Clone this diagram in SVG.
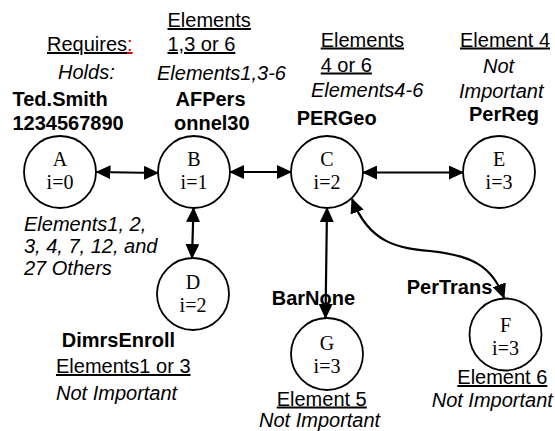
<svg xmlns="http://www.w3.org/2000/svg" width="555" height="431" viewBox="0 0 555 431">
<style>
.t{font-family:"Liberation Sans",Arial,sans-serif;font-size:20px;fill:#000}
.b{font-weight:bold}
.i{font-style:italic}
.u{text-decoration:underline}
.n{font-family:"Liberation Serif","Times New Roman",serif;font-size:20px;text-anchor:middle;fill:#000}
.c{fill:#fff;stroke:#000;stroke-width:1.8}
.e{fill:none;stroke:#000;stroke-width:2.2;marker-start:url(#ah);marker-end:url(#ah)}
</style>
<defs>
<marker id="ah" viewBox="0 0 15 14" refX="14" refY="7" markerWidth="15" markerHeight="14" orient="auto-start-reverse" markerUnits="userSpaceOnUse"><path d="M0,0 L15,7 L0,14 z" fill="#000"/></marker>
</defs>
<rect width="555" height="431" fill="#fff"/>
<g id="legend">
<text class="t" x="47" y="51"><tspan class="u">Requires</tspan><tspan class="u" fill="#e00000">:</tspan></text>
<text class="t i" x="58" y="79">Holds:</text>
</g>
<g id="nodeA">
<circle class="c" cx="60" cy="172" r="36"/>
<text class="n" x="60" y="166">A</text>
<text class="n" x="60" y="189">i=0</text>
<text class="t b" x="12.5" y="106">Ted.Smith</text>
<text class="t b" x="12.5" y="130">1234567890</text>
<text class="t i" x="24" y="231">Elements1, 2,</text>
<text class="t i" x="24" y="253">3, 4, 7, 12, and</text>
<text class="t i" x="24" y="275">27 Others</text>
</g>
<g id="nodeB">
<circle class="c" cx="194" cy="172" r="36"/>
<text class="n" x="194" y="166">B</text>
<text class="n" x="194" y="189">i=1</text>
<text class="t u" x="167.5" y="27">Elements</text>
<text class="t u" x="167.5" y="51">1,3 or 6</text>
<text class="t i" x="157" y="80">Elements1,3-6</text>
<text class="t b" x="175.5" y="106">AFPers</text>
<text class="t b" x="174" y="130">onnel30</text>
</g>
<g id="nodeC">
<circle class="c" cx="327" cy="172" r="36"/>
<text class="n" x="327" y="166">C</text>
<text class="n" x="327" y="189">i=2</text>
<text class="t u" x="320.7" y="46.5">Elements</text>
<text class="t u" x="320.7" y="71.5">4 or 6</text>
<text class="t i" x="311" y="96.5">Elements4-6</text>
<text class="t b" x="296.7" y="125">PERGeo</text>
</g>
<g id="nodeE">
<circle class="c" cx="499" cy="172" r="36"/>
<text class="n" x="499" y="166">E</text>
<text class="n" x="499" y="189">i=3</text>
<text class="t u" x="460" y="46.5">Element 4</text>
<text class="t i" x="483" y="73">Not</text>
<text class="t i" x="459" y="97.5">Important</text>
<text class="t b" x="469" y="120.5">PerReg</text>
</g>
<g id="nodeD">
<circle class="c" cx="193" cy="294" r="36"/>
<text class="n" x="193" y="289">D</text>
<text class="n" x="193" y="312">i=2</text>
<text class="t b" x="61.7" y="346.5">DimrsEnroll</text>
<text class="t u" x="56" y="373">Elements1 or 3</text>
<text class="t i" x="56" y="400">Not Important</text>
</g>
<g id="nodeG">
<circle class="c" cx="327" cy="354" r="36"/>
<text class="n" x="327" y="350">G</text>
<text class="n" x="327" y="373">i=3</text>
<text class="t b" x="271.7" y="305">BarNone</text>
<text class="t u" x="276.7" y="405.5">Element 5</text>
<text class="t i" x="259" y="426.5">Not Important</text>
</g>
<g id="nodeF">
<circle class="c" cx="505.5" cy="334.5" r="36"/>
<text class="n" x="505.5" y="332">F</text>
<text class="n" x="505.5" y="355">i=3</text>
<text class="t b" x="406.7" y="294">PerTrans</text>
<text class="t u" x="457.3" y="384">Element 6</text>
<text class="t i" x="431.7" y="406.5">Not Important</text>
</g>
<g id="connectors">
<path class="e" d="M96.5,172 L158,173"/>
<path class="e" d="M230,172 L291,172"/>
<path class="e" d="M363,172.5 L463,172.5"/>
<path class="e" d="M193.5,208 L192,258"/>
<path class="e" d="M327,208 L325.5,318"/>
<path class="e" d="M352,199 C370,245 400,248 430,251 C470,255 492,265 504,298"/>
</g>
</svg>
